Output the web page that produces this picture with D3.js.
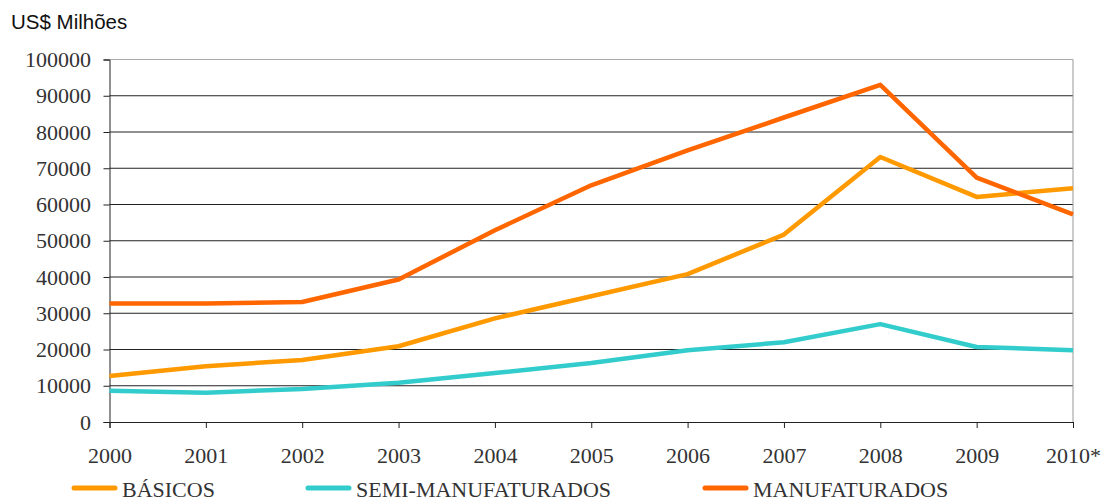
<!DOCTYPE html>
<html>
<head>
<meta charset="utf-8">
<script src="https://cdn.jsdelivr.net/npm/d3@7"></script>
<style>
  body { margin: 0; background: #fff; }
  svg { display: block; }
</style>
</head>
<body>
<svg id="chart" width="1105" height="499"></svg>
<script>
var years = ['2000', '2001', '2002', '2003', '2004', '2005', '2006', '2007', '2008', '2009', '2010*'];
var basicos = [12700, 15400, 17100, 20900, 28600, 34700, 40800, 51700, 73100, 62100, 64500];
var semi = [8600, 8100, 9100, 10800, 13500, 16300, 19800, 22000, 27000, 20700, 19800];
var manuf = [32700, 32700, 33100, 39300, 52900, 65300, 74900, 84000, 93000, 67400, 57300];
var yTicks = [0, 10000, 20000, 30000, 40000, 50000, 60000, 70000, 80000, 90000, 100000];

var series = [
  {name: 'BÁSICOS', values: basicos, color: '#FF9900', lx: 74},
  {name: 'SEMI-MANUFATURADOS', values: semi, color: '#33CCCC', lx: 308},
  {name: 'MANUFATURADOS', values: manuf, color: '#FF6600', lx: 705}
];

var margin = {top: 59.5, right: 32, bottom: 77, left: 109.5},
    width = 1105 - margin.left - margin.right,
    height = 499 - margin.top - margin.bottom;

var svg = d3.select('#chart');

svg.append('text')
  .attr('x', 11)
  .attr('y', 29)
  .attr('font-family', '"Liberation Sans", Arial, sans-serif')
  .attr('font-size', 20.5)
  .attr('fill', '#111')
  .text('US$ Milhões');

var g = svg.append('g').attr('transform', 'translate(' + margin.left + ',' + margin.top + ')');

var x = d3.scalePoint().domain(years).range([0, width]);
var y = d3.scaleLinear().domain([0, 100000]).range([height, 0]);

// gridlines
g.selectAll('line.grid')
  .data(yTicks.slice(1))
  .enter().append('line')
  .attr('class', 'grid')
  .attr('x1', 0).attr('x2', width)
  .attr('y1', function(d) { return y(d); })
  .attr('y2', function(d) { return y(d); })
  .attr('stroke', function(d) { return d === 100000 ? '#aaa' : '#222'; })
  .attr('stroke-width', 1);

// right border
g.append('line')
  .attr('x1', width).attr('x2', width)
  .attr('y1', 0).attr('y2', height)
  .attr('stroke', '#999');

var serif = '"Liberation Serif", "Times New Roman", serif';

var yAxis = g.append('g')
  .call(d3.axisLeft(y).tickValues(yTicks).tickSize(6).tickPadding(12.5).tickFormat(d3.format('d')));
var xAxis = g.append('g')
  .attr('transform', 'translate(0,' + height + ')')
  .call(d3.axisBottom(x).tickSize(6).tickPadding(19));

[yAxis, xAxis].forEach(function(a) {
  a.attr('font-family', serif);
  a.select('.domain').attr('stroke', '#222');
  a.selectAll('.tick line').attr('stroke', '#222');
  a.selectAll('text')
    .attr('font-family', serif)
    .attr('font-size', 22)
    .attr('fill', '#333');
});

var line = d3.line()
  .x(function(d, i) { return x(years[i]); })
  .y(function(d) { return y(d); });

series.forEach(function(s) {
  g.append('path')
    .datum(s.values)
    .attr('d', line)
    .attr('fill', 'none')
    .attr('stroke', s.color)
    .attr('stroke-width', 4.5)
    .attr('stroke-linejoin', 'round');
});

// legend
var legend = svg.append('g').attr('transform', 'translate(0,488)');
var items = legend.selectAll('g').data(series).enter().append('g')
  .attr('transform', function(d) { return 'translate(' + d.lx + ',0)'; });
items.append('line')
  .attr('x1', 0).attr('x2', 41)
  .attr('stroke', function(d) { return d.color; })
  .attr('stroke-width', 5)
  .attr('stroke-linecap', 'round');
items.append('text')
  .attr('x', 48)
  .attr('y', 9)
  .attr('font-family', serif)
  .attr('font-size', 22)
  .attr('fill', '#333')
  .text(function(d) { return d.name; });
</script>
</body>
</html>
